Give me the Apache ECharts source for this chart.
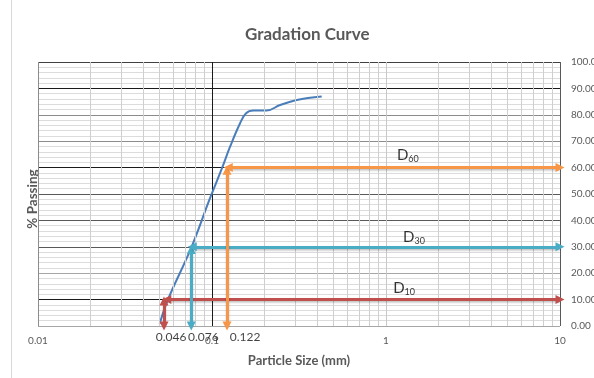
<!DOCTYPE html>
<html>
<head>
<meta charset="utf-8">
<script src="https://cdn.jsdelivr.net/npm/echarts@6/dist/echarts.min.js"></script>
<style>
html,body{margin:0;padding:0;background:#fff;}
#c{width:594px;height:378px;}
</style>
</head>
<body>
<div id="c"></div>
<script>
// ---- data ----
const particleSize = [0.0500, 0.0558, 0.0757, 0.0974, 0.114, 0.127, 0.145, 0.157, 0.173, 0.206, 0.246, 0.307, 0.427];
const percentPassing = [0.8, 10, 29.4, 48.4, 59.7, 67.9, 76.8, 80.6, 81.6, 81.6, 83.7, 85.6, 86.9];

const xTickLabels = ['0.01', '0.1', '1', '10'];
const yTicks = [0, 10, 20, 30, 40, 50, 60, 70, 80, 90, 100];
const minorX = [0.02,0.03,0.04,0.05,0.06,0.07,0.08,0.09,0.2,0.3,0.4,0.5,0.6,0.7,0.8,0.9,2,3,4,5,6,7,8,9];

// D-value annotations: name, vertical-arrow x, horizontal-arrow y, label text
const dNames = ['10', '30', '60'];
const dVertX = [0.053, 0.076, 0.122];
const dVertTop = [9.5, 29, 59];
const dHorizStart = [0.055, 0.077, 0.124];
const dLevel = [10, 30, 60];
const dValueText = ['0.046', '0.076', '0.122'];
const dLabelX = [1.27, 1.449, 1.336];
const dLabelY = [14.4, 33.7, 64.8];
const arrowColors = ['#c0504d', '#4bacc6', '#f79646'];

const FONT = 'Lato, "Liberation Sans", sans-serif';
const chart = echarts.init(document.getElementById('c'), null, {renderer: 'canvas'});

const curve = particleSize.map((x, i) => [x, percentPassing[i]]);

const arrowLines = [];
dNames.forEach((n, i) => {
  const style = {color: arrowColors[i], width: 3, type: 'solid',
    shadowColor: 'rgba(0,0,0,0.25)', shadowBlur: 2, shadowOffsetY: 1.5};
  arrowLines.push([{coord: [dVertX[i], 0], lineStyle: style}, {coord: [dVertX[i], dVertTop[i]]}]);
  arrowLines.push([{coord: [dHorizStart[i], dLevel[i]], lineStyle: style}, {coord: [10, dLevel[i]]}]);
});

const valueOffsets = [7, 12, 18];

const option = {
  animation: false,
  backgroundColor: '#fff',
  title: {
    text: 'Gradation Curve', left: 240, top: 21,
    textStyle: {fontFamily: FONT, fontSize: 17, fontWeight: 'bold', color: '#595959'}
  },
  grid: {left: 38, right: 34, top: 62, bottom: 52, containLabel: false, outerBoundsMode: 'none'},
  xAxis: {
    type: 'log', logBase: 10, min: 0.01, max: 10,
    axisLine: {show: false}, axisTick: {show: false},
    axisLabel: {
      color: '#595959', fontSize: 10, fontFamily: FONT, margin: 10,
      formatter: v => {
        const s = String(+v.toPrecision(3));
        return xTickLabels.indexOf(s) >= 0 ? s : '';
      }
    },
    splitLine: {show: true, lineStyle: {width: 1, color: ['#8c8c8c', '#1a1a1a', '#c8c8c8', '#595959']}},
    name: 'Particle Size (mm)', nameLocation: 'middle', nameGap: 28,
    nameTextStyle: {fontFamily: FONT, fontSize: 13, fontWeight: 'bold', color: '#595959'}
  },
  yAxis: {
    type: 'value', position: 'right', min: 0, max: 100, interval: 10,
    axisLine: {show: false}, axisTick: {show: false},
    axisLabel: {color: '#595959', fontSize: 10, fontFamily: FONT, margin: 11,
      formatter: v => v.toFixed(2)},
    splitLine: {show: true, lineStyle: {width: 1, color: ['#a6a6a6', '#1a1a1a', '#a6a6a6', '#595959', '#595959', '#595959', '#1a1a1a', '#8c8c8c', '#8c8c8c', '#1a1a1a', '#404040']}},
    minorTick: {show: false, splitNumber: 5},
    minorSplitLine: {show: true, lineStyle: {color: '#dcdcdc', width: 1}}
  },
  graphic: [
    {type: 'line', shape: {x1: 11.5, y1: 0, x2: 11.5, y2: 378}, style: {stroke: '#d9d9d9', lineWidth: 1}, silent: true},
    {type: 'text', x: 33, y: 199, rotation: Math.PI / 2,
      style: {text: '% Passing', fill: '#595959', font: 'bold 13.5px ' + FONT, textAlign: 'center', textVerticalAlign: 'middle'}}
  ],
  series: [
    {
      name: 'minorGrid', type: 'line', data: [], z: 1, silent: true,
      markLine: {
        silent: true, symbol: ['none', 'none'], label: {show: false},
        lineStyle: {color: '#cfcfcf', width: 1, type: 'solid'},
        data: minorX.map(v => ({xAxis: v}))
      }
    },
    {
      name: 'Gradation', type: 'line', data: curve, z: 3,
      showSymbol: false, symbol: 'none', smooth: 0.4,
      lineStyle: {color: '#4a7ebb', width: 2}
    },
    {
      name: 'arrows', type: 'line', data: [], z: 4, silent: true,
      markLine: {
        silent: true, symbol: ['triangle', 'triangle'], symbolSize: 9, label: {show: false},
        data: arrowLines
      }
    },
    {
      name: 'dLabels', type: 'scatter', z: 5, symbolSize: 0, silent: true,
      data: dNames.map((n, i) => ({value: [dLabelX[i], dLabelY[i]], name: n})),
      label: {
        show: true, position: 'inside',
        formatter: p => '{d|D}{s|' + p.name + '}',
        rich: {
          d: {fontFamily: FONT, fontSize: 15, color: '#000', lineHeight: 16, verticalAlign: 'bottom'},
          s: {fontFamily: FONT, fontSize: 9, color: '#000', lineHeight: 12, verticalAlign: 'bottom', padding: [0, 0, -1, 0]}
        }
      }
    },
    {
      name: 'dValues', type: 'scatter', z: 5, symbolSize: 0, silent: true, clip: false,
      data: dValueText.map((t, i) => ({value: [dVertX[i], 0], name: t})),
      label: {
        show: true, position: 'bottom', distance: 5,
        formatter: p => p.name,
        fontFamily: FONT, fontSize: 12, color: '#111'
      },
      labelLayout: p => ({dx: valueOffsets[p.dataIndex]})
    }
  ]
};
chart.setOption(option);
</script>
</body>
</html>
